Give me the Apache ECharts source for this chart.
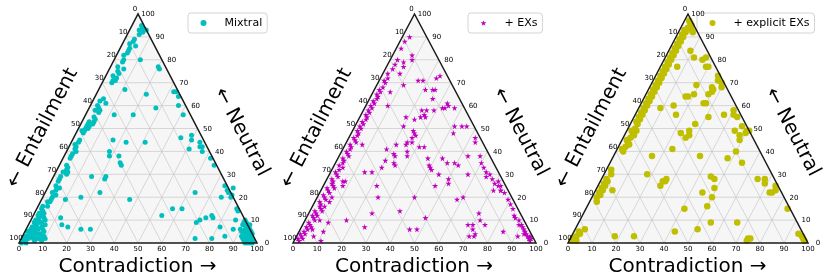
<!DOCTYPE html>
<html><head><meta charset="utf-8">
<script src="https://cdn.jsdelivr.net/npm/echarts@6/dist/echarts.min.js"></script>
<style>html,body{margin:0;padding:0;background:#fff}#c{width:830px;height:277px}</style>
</head><body><div id="c"></div>
<script>
// ---------- data ----------
const tickValues = [0, 10, 20, 30, 40, 50, 60, 70, 80, 90, 100];
const gridValues = [10, 20, 30, 40, 50, 60, 70, 80, 90];
const seriesNames = ['Mixtral', '+ EXs', '+ explicit EXs'];
const bottomTitle = 'Contradiction \u2192';
const leftTitle = '\u2190 Entailment';
const rightTitle = '\u2190 Neutral';

// points: [contradiction %, neutral %]  (entailment = 100 - contradiction - neutral)
const mixtral = [
 [4,95],[4,93],[6,92],[5,91],[7,93],[5,94],
 [4,89],[4,88],[3,87],[4,85],[4,84],[4,83],[3,82],[6,86],
 [11,80],[4,80],[4,79],[3,77],[4,75],[5,74],[5,72],[5,71],[4,71],[4,70],[3,73],[6,76],
 [11,67],[21,65],[20,77],[21,76],[32,66],[33,66],[35,64],
 [3,62],[4,63],[6,61],[3,60],[3,58],[5,58],[5,57],[4,59],
 [28,59],[37,60],[12,56],[20,56],[41,56],
 [3,53],[3,52],[3,51],[4,51],[4,50],[3,50],[3,49],[3,48],[5,53],[5,54],[4,55],[2,49],[5,52],
 [45,46],[49,47],[50,45],
 [3,45],[3,44],[3,42],[2,43],
 [17,45],[23,44],[31,44],
 [54,44],[56,42],[55,42],[57,40],
 [3,41],[3,39],[3,38],[3,37],[4,40],
 [18,40],[19,38],[23,38],[25,35],[26,34],
 [51,41],[62,37],[65,34],
 [3,34],[4,32],[3,31],[5,31],[3,29],[3,28],[3,27],[4,33],[5,30],
 [22,29],[16,29],[22,28],
 [5,24],[4,23],[3,22],[4,20],[4,19],[4,18],[5,21],[3,25],
 [16,20],[23,22],
 [74,25],[76,23],[77,22],[79,21],[75,20],[79,20],[78,24],
 [63,22],[10,19],[37,19],
 [3,18],[2,16],[2,15],[2,13],[2,12],[2,10],[2,9],[3,14],[3,11],[4,16],[4,13],
 [57,15],[61,15],[84,15],[85,14],
 [12,11],[14,8],[17,7],[23,6],[27,6],
 [54,12],[71,10],[70,9],[73,11],[75,12],[76,11],
 [86,10],[90,9],[81,7],[87,6],[90,6],
 [73,2],[80,2],[85,3],
 [1,1],[2,1],[3,2],[2,3],[4,3],[3,4],[1,3],[5,2],[4,5],[2,5],[3,6],[5,6],[6,4],[2,7],[4,7],[6,7],
 [3,8],[5,9],[2,9],[7,8],[1,2],[8,3],[9,1],[7,2],[3,10],[5,11],[4,12],[8,5],[6,10],[10,2],[8,2],
 [7,4],[7,6],[1,5],[2,6],[3,5],[4,9],[6,2],[5,4],[1,0],[3,0],[2,2],[6,1],[9,3],
 [95,1],[96,2],[97,1],[94,3],[95,4],[96,3],[93,5],[94,6],[95,5],[92,7],[93,8],[94,2],[97,2],[98,1],
 [95,2],[92,3],[93,2],[96,4],[91,8],[90,10],[92,6],[93,6],[91,5],[91,9],[94,4],[96,1],[94,1],[93,4],
 [92,5],[95,3],[90,8],[92,8],[93,7],[94,5],[97,0],[95,0],[96,0],[98,0]
];
const exs = [
 [2,1],[1,2],[3,2],[2,3],[1,4],[3,4],[2,5],[3,6],[2,7],[4,7],[3,8],[2,9],[4,10],[3,11],[2,12],[4,12],
 [3,13],[2,14],[4,15],[3,16],[5,16],[3,17],[2,18],[4,19],[3,20],[2,21],[4,22],[3,23],[2,24],[4,25],
 [3,26],[3,27],[2,28],[4,29],[3,30],[2,31],[3,32],[4,33],[2,34],[3,35],[3,36],[2,37],[4,38],[3,39],
 [2,40],[3,41],[3,42],[2,43],[4,44],[3,45],[2,46],[3,47],[3,48],[2,49],[3,50],[2,51],[3,52],[2,53],
 [3,54],[3,55],[2,56],[3,57],[2,58],[3,59],[2,60],[3,61],[2,62],[3,63],[3,64],[2,65],[3,66],[2,67],
 [3,68],[3,70],[2,71],[3,72],[2,74],[3,76],[3,78],[3,80],[2,85],[2,88],[3,90],
 [6,18],[5,14],[6,10],[5,6],[7,3],[6,20],[5,24],
 [8,82],[9,80],[6,79],[7,77],[7,74],[16,71],[18,71],[21,67],[23,72],[24,73],[24,67],[25,67],[11,69],
 [7,66],[26,63],[24,58],[26,58],[26,56],[27,55],[25,55],[29,58],[32,59],[33,59],[33,61],[34,60],[37,59],
 [9,60],[19,55],[20,51],[23,54],[25,49],[26,48],[27,47],[26,46],[25,44],[25,43],[27,44],[33,42],[31,42],
 [21,43],[18,41],[22,39],[23,38],[24,35],[25,34],[28,38],[27,40],[20,36],[20,33],[14,31],[17,31],[7,43],
 [37,37],[39,34],[40,33],[41,32],[43,37],[46,35],[45,30],[50,28],[51,26],[49,35],[51,34],[46,25],
 [41,51],[42,48],[44,51],[46,51],[58,38],[60,35],[53,38],[52,46],[53,44],[65,29],[66,30],[57,30],
 [58,19],[60,20],[71,23],[70,26],[72,25],[74,23],[70,13],[72,10],[68,8],[70,8],[71,6],[71,3],[73,3],
 [73,4],[75,8],[84,5],[91,3],[49,11],[45,6],[48,6],[37,14],[25,20],[26,13],[26,7],[17,10],[10,9],
 [40,20],[7,27],[8,27],[8,25],[22,25],[10,5],[11,1],
 [71,27],[73,25],[74,23],[76,22],[79,19],[81,17],[83,15],[86,11],[88,10],[89,8],[91,7],[92,6],[93,4],
 [95,3],[96,2],[97,1],[93,5],[62,33],[64,31],[68,28],[85,12],[90,8],[94,4],[96,3],[97,2]
];
const explicitExs = [
 [3,96],[4,95],[5,93],[2,97],[3,94],[6,92],
 [2,93],[3,92],[2,91],[3,90],[2,89],[3,88],[2,87],[3,86],[2,85],[3,84],[2,83],[3,82],[2,81],[3,80],
 [2,79],[3,78],[2,77],[3,76],[2,75],[3,74],[2,73],[3,72],[2,71],[3,70],[2,69],[3,68],[2,67],[3,66],
 [2,65],[3,64],[2,63],[3,62],[2,61],[3,60],[2,59],[3,58],[2,57],[3,56],[2,55],[3,54],[2,53],[3,52],
 [3,50],[2,49],[3,48],[4,47],[3,46],[2,45],[3,44],[4,43],[3,42],[2,41],[3,40],[4,49],
 [2,32],[3,30],[2,28],[3,27],[2,26],[3,25],[2,24],[3,23],[2,22],[3,21],[2,20],[3,18],
 [2,3],[1,2],[2,2],[3,1],[1,1],[3,4],[2,5],[4,6],
 [9,84],[12,81],[16,80],[17,81],[19,77],[20,77],[7,77],[26,73],[27,71],[29,70],[30,68],[26,68],
 [27,66],[27,67],[19,69],[20,65],[17,64],[18,64],[26,61],[27,61],[26,65],[9,59],[14,60],[17,56],
 [27,52],[31,55],[37,56],[40,58],[41,56],[43,55],[47,51],[50,49],[50,48],[48,47],[49,45],[45,49],
 [51,49],[23,48],[26,46],[27,47],[26,49],[50,40],[23,41],[36,38],[48,37],[55,35],[16,38],[18,30],
 [26,27],[26,25],[27,27],[27,28],[45,29],[47,28],[49,24],[50,20],[45,22],[65,28],[68,28],[69,26],
 [74,25],[75,23],[73,22],[74,22],[41,15],[50,16],[84,15],[55,9],[66,9],[51,6],[42,5],[26,3],[18,3],
 [74,2],[74,1],[75,2],[94,4],[96,3],[98,1],[97,2],[7,23]
];

// ---------- layout / style ----------
const panels = [
  { left: 19,  width: 238, pts: mixtral,     color: '#00bfbf', symbol: 'circle', size: 5 },
  { left: 293, width: 243, pts: exs,         color: '#bf00bf', symbol: 'path://M50,0 L61,35 L98,35 L68,57 L79,91 L50,70 L21,91 L32,57 L2,35 L39,35 Z', size: 6 },
  { left: 568, width: 240, pts: explicitExs, color: '#bfbf00', symbol: 'circle', size: 6.5 }
];
const legendLeft = [188, 468, 697];
const TOP = 14, HEIGHT = 229;
const FONT = '"DejaVu Sans", sans-serif';

// ternary (contradiction, neutral) -> position on the 0..100 cartesian axes
function tern(c, n) { return [c + n / 2, n]; }

function txt(x, y, text, size, align, rot) {
  return { type: 'text', x: x, y: y, rotation: rot || 0,
    style: { text: text, fill: '#000', font: size + 'px ' + FONT,
      align: align, textAlign: align, verticalAlign: 'middle', textVerticalAlign: 'middle' } };
}

const series = [];
panels.forEach((p, i) => {
  const base = { type: 'custom', xAxisIndex: i, yAxisIndex: i, silent: true, clip: false };
  series.push(Object.assign({}, base, { z: 1, data: [[0, 0]],
    renderItem: (params, api) => ({ type: 'polygon',
      shape: { points: [api.coord(tern(0, 0)), api.coord(tern(100, 0)), api.coord(tern(0, 100))] },
      style: { fill: '#f6f6f6' } }) }));
  series.push(Object.assign({}, base, { z: 2, data: gridValues.map(v => [v, v]),
    renderItem: (params, api) => {
      const v = api.value(0);
      const seg = (a, b) => { const p1 = api.coord(a), p2 = api.coord(b);
        return { type: 'line', shape: { x1: p1[0], y1: p1[1], x2: p2[0], y2: p2[1] },
          style: { stroke: '#c9c9c9', lineWidth: 0.7 } }; };
      return { type: 'group', children: [
        seg(tern(0, v), tern(100 - v, v)),
        seg(tern(v, 0), tern(v, 100 - v)),
        seg(tern(100 - v, 0), tern(0, 100 - v)) ] };
    } }));
  series.push(Object.assign({}, base, { z: 6, data: [[0, 0]],
    renderItem: (params, api) => ({ type: 'polygon',
      shape: { points: [api.coord(tern(0, 0)), api.coord(tern(100, 0)), api.coord(tern(0, 100))] },
      style: { fill: null, stroke: '#1a1a1a', lineWidth: 1.5 } }) }));
  series.push(Object.assign({}, base, { z: 6, data: tickValues.map(v => [v, v]),
    renderItem: (params, api) => {
      const v = api.value(0);
      const b = api.coord(tern(v, 0));
      const l = api.coord(tern(0, 100 - v));
      const r = api.coord(tern(100 - v, v));
      return { type: 'group', children: [
        txt(b[0], b[1] + 6, String(v), 7, 'center'),
        txt(l[0] - 3, l[1] - 4.5, String(v), 7, 'center'),
        txt(r[0] + 10, r[1] + 0.5, String(v), 7, 'center') ] };
    } }));
  series.push({ type: 'scatter', name: seriesNames[i], xAxisIndex: i, yAxisIndex: i, z: 5,
    data: p.pts.map(d => tern(d[0], d[1])), symbol: p.symbol, symbolSize: p.size,
    itemStyle: { color: p.color, opacity: 1 } });
});

const ANG = 62.4 * Math.PI / 180;
const graphic = [];
panels.forEach((p, i) => {
  const right = p.left + p.width;
  graphic.push(txt(p.left + p.width / 2 - 0.5, 267, bottomTitle, 20, 'center'));
  graphic.push(txt(p.left + 23.5, 128, leftTitle, 20, 'center', ANG));
  graphic.push(txt(right - 15.5, 132, rightTitle, 20, 'center', -ANG));
});

const option = {
  animation: false,
  backgroundColor: '#fff',
  grid: panels.map(p => ({ left: p.left, top: TOP, width: p.width, height: HEIGHT })),
  xAxis: panels.map((p, i) => ({ gridIndex: i, type: 'value', min: 0, max: 100, show: false })),
  yAxis: panels.map((p, i) => ({ gridIndex: i, type: 'value', min: 0, max: 100, show: false })),
  legend: seriesNames.map((nm, i) => ({
    data: [nm], left: legendLeft[i], top: 13, selectedMode: false,
    padding: [4, 5, 4, 12.5], itemWidth: 6, itemHeight: 6,
    borderColor: '#d4d4d4', borderWidth: 1, borderRadius: 3, backgroundColor: '#fff',
    textStyle: { fontSize: 11, fontFamily: FONT, color: '#000', padding: [0, 0, 0, 13], lineHeight: 12 }
  })),
  graphic: { elements: graphic },
  series: series
};
const chart = echarts.init(document.getElementById('c'), null, { renderer: 'canvas' });
chart.setOption(option);
</script></body></html>
